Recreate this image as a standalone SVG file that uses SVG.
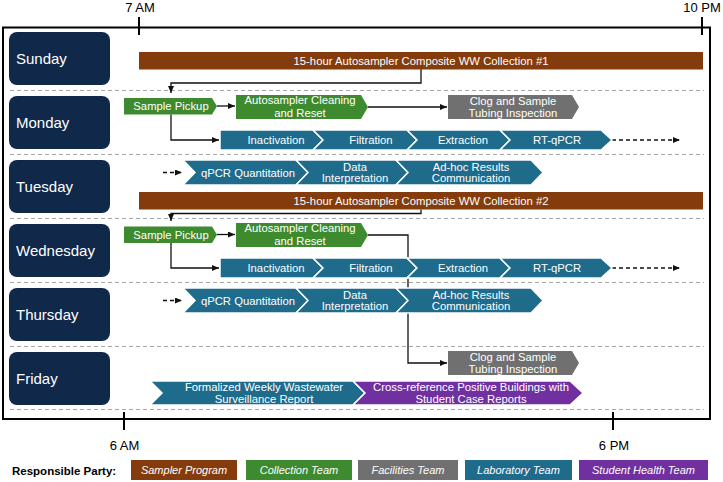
<svg xmlns="http://www.w3.org/2000/svg" width="723" height="482" viewBox="0 0 723 482">
<style>
text{font-family:"Liberation Sans",Arial,sans-serif;fill:#fff;}
.day rect{fill:#10284a;}
.day text{font-size:15px;}
.t{font-size:11.3px;text-anchor:middle;}
.time{font-size:13px;text-anchor:middle;fill:#000;}
.sep{stroke:#a6a6a6;stroke-width:1.2;stroke-dasharray:4 3;fill:none;}
.tick{stroke:#000;stroke-width:2;}
.brown{fill:#843c0c;}
.green{fill:#3e8a2e;}
.gray{fill:#707070;}
.blue{fill:#1e6b8c;stroke:#fff;stroke-width:1.5;stroke-linejoin:miter;}
.bluef{fill:#1e6b8c;}
.purple{fill:#7030a0;stroke:#fff;stroke-width:1.5;}
.conn{fill:none;stroke:#111;stroke-width:1.3;}
.dash{stroke-dasharray:4 3;}
.leg text{font-size:11px;font-style:italic;text-anchor:middle;}
</style>
<defs>
<marker id="ah" markerUnits="userSpaceOnUse" markerWidth="8" markerHeight="7" refX="7" refY="3" orient="auto">
<path d="M0,0 L7,3 L0,6 z" fill="#111"/>
</marker>
</defs>
<rect width="723" height="482" fill="#fff"/>
<!-- frame -->
<rect x="3" y="27.5" width="707" height="391.5" fill="none" stroke="#000" stroke-width="2"/>
<line class="tick" x1="139" y1="17" x2="139" y2="35"/>
<line class="tick" x1="702" y1="17" x2="702" y2="35"/>
<line class="tick" x1="124" y1="412" x2="124" y2="430"/>
<line class="tick" x1="613" y1="412" x2="613" y2="430"/>
<text class="time" x="140" y="12">7 AM</text>
<text class="time" x="702" y="12">10 PM</text>
<text class="time" x="124.5" y="450">6 AM</text>
<text class="time" x="614" y="450">6 PM</text>
<!-- separators -->
<g id="separators">
<line class="sep" x1="10" y1="90.5" x2="704" y2="90.5"/>
<line class="sep" x1="10" y1="154.5" x2="704" y2="154.5"/>
<line class="sep" x1="10" y1="218.5" x2="704" y2="218.5"/>
<line class="sep" x1="10" y1="282.5" x2="704" y2="282.5"/>
<line class="sep" x1="10" y1="346.5" x2="704" y2="346.5"/>
<line class="sep" x1="10" y1="409.5" x2="704" y2="409.5"/>
</g>
<!-- day labels -->
<g id="day-sunday" class="day"><rect x="9" y="32" width="101" height="53" rx="8"/><text x="16" y="64">Sunday</text></g>
<g id="day-monday" class="day"><rect x="9" y="96" width="101" height="53" rx="8"/><text x="16" y="128">Monday</text></g>
<g id="day-tuesday" class="day"><rect x="9" y="160" width="101" height="53" rx="8"/><text x="16" y="192">Tuesday</text></g>
<g id="day-wednesday" class="day"><rect x="9" y="224" width="101" height="53" rx="8"/><text x="16" y="256">Wednesday</text></g>
<g id="day-thursday" class="day"><rect x="9" y="288" width="101" height="53" rx="8"/><text x="16" y="320">Thursday</text></g>
<g id="day-friday" class="day"><rect x="9" y="352" width="101" height="53" rx="8"/><text x="16" y="384">Friday</text></g>
<!-- connectors -->
<g id="connectors">
<polyline class="conn" points="421,69 421,83 171,83 171,93" marker-end="url(#ah)"/>
<line class="conn" x1="217" y1="106" x2="235" y2="106" marker-end="url(#ah)"/>
<line class="conn" x1="368" y1="107" x2="447" y2="107" marker-end="url(#ah)"/>
<polyline class="conn" points="171,114.5 171,140 219,140" marker-end="url(#ah)"/>
<line class="conn dash" x1="612" y1="140" x2="680" y2="140" marker-end="url(#ah)"/>
<line class="conn dash" x1="163" y1="172.5" x2="182" y2="172.5" marker-end="url(#ah)"/>
<polyline class="conn" points="421,209.5 421,213.5 171,213.5 171,221" marker-end="url(#ah)"/>
<line class="conn" x1="217" y1="234.5" x2="235" y2="234.5" marker-end="url(#ah)"/>
<polyline class="conn" points="368,235 408,235 408,363 447,363" marker-end="url(#ah)"/>
<polyline class="conn" points="171,243 171,268 219,268" marker-end="url(#ah)"/>
<line class="conn dash" x1="612" y1="268" x2="680" y2="268" marker-end="url(#ah)"/>
<line class="conn dash" x1="163" y1="300.5" x2="182" y2="300.5" marker-end="url(#ah)"/>
</g>
<!-- Sunday -->
<g id="collection-1"><rect class="brown" x="139" y="52" width="564" height="17.5"/><text class="t" x="421" y="64.5">15-hour Autosampler Composite WW Collection #1</text></g>
<!-- Monday -->
<g id="mon-pickup"><polygon class="green" points="124,98 212,98 217,106.25 212,114.5 124,114.5"/><text class="t" x="171" y="110.3">Sample Pickup</text></g>
<g id="mon-cleaning"><polygon class="green" points="236,95 361,95 368,107 361,119 236,119"/><text class="t" x="300" y="104">Autosampler Cleaning</text><text class="t" x="300" y="116.5">and Reset</text></g>
<g id="mon-clog"><polygon class="gray" points="448,95 572,95 579,107 572,119 448,119"/><text class="t" x="513" y="105">Clog and Sample</text><text class="t" x="513" y="117">Tubing Inspection</text></g>
<g id="mon-inactivation"><polygon class="blue" points="220,130 313,130 323,140 313,150 220,150"/><text class="t" x="276" y="144">Inactivation</text></g>
<g id="mon-filtration"><polygon class="blue" points="313,130 407,130 417,140 407,150 313,150 323,140"/><text class="t" x="371" y="144">Filtration</text></g>
<g id="mon-extraction"><polygon class="blue" points="407,130 500,130 510,140 500,150 407,150 417,140"/><text class="t" x="463" y="144">Extraction</text></g>
<g id="mon-rtqpcr"><polygon class="blue" points="500,130 601,130 612,140 601,150 500,150 510,140"/><text class="t" x="557" y="144">RT-qPCR</text></g>
<!-- Tuesday -->
<g id="tue-quant"><polygon class="blue" points="183,160 296,160 308,172.5 296,185 183,185 195,172.5"/><text class="t" x="248" y="176.5">qPCR Quantitation</text></g>
<g id="tue-interp"><polygon class="blue" points="296,160 396,160 408,172.5 396,185 296,185 308,172.5"/><text class="t" x="355" y="171">Data</text><text class="t" x="355" y="182">Interpretation</text></g>
<g id="tue-comm"><polygon class="blue" points="396,160 531,160 543,172.5 531,185 396,185 408,172.5"/><text class="t" x="471" y="171">Ad-hoc Results</text><text class="t" x="471" y="182">Communication</text></g>
<g id="collection-2"><rect class="brown" x="139" y="192" width="564" height="17.5"/><text class="t" x="421" y="205">15-hour Autosampler Composite WW Collection #2</text></g>
<!-- Wednesday -->
<g id="wed-pickup"><polygon class="green" points="124,226.5 212,226.5 217,234.75 212,243 124,243"/><text class="t" x="171" y="238.8">Sample Pickup</text></g>
<g id="wed-cleaning"><polygon class="green" points="236,223 361,223 368,235 361,247 236,247"/><text class="t" x="300" y="232">Autosampler Cleaning</text><text class="t" x="300" y="244.5">and Reset</text></g>
<g id="wed-inactivation"><polygon class="blue" points="220,258 313,258 323,268 313,278 220,278"/><text class="t" x="276" y="272">Inactivation</text></g>
<g id="wed-filtration"><polygon class="blue" points="313,258 407,258 417,268 407,278 313,278 323,268"/><text class="t" x="371" y="272">Filtration</text></g>
<g id="wed-extraction"><polygon class="blue" points="407,258 500,258 510,268 500,278 407,278 417,268"/><text class="t" x="463" y="272">Extraction</text></g>
<g id="wed-rtqpcr"><polygon class="blue" points="500,258 601,258 612,268 601,278 500,278 510,268"/><text class="t" x="557" y="272">RT-qPCR</text></g>
<!-- Thursday -->
<g id="thu-quant"><polygon class="blue" points="183,288 296,288 308,300.5 296,313 183,313 195,300.5"/><text class="t" x="248" y="304.5">qPCR Quantitation</text></g>
<g id="thu-interp"><polygon class="blue" points="296,288 396,288 408,300.5 396,313 296,313 308,300.5"/><text class="t" x="355" y="299">Data</text><text class="t" x="355" y="310">Interpretation</text></g>
<g id="thu-comm"><polygon class="blue" points="396,288 531,288 543,300.5 531,313 396,313 408,300.5"/><text class="t" x="471" y="299">Ad-hoc Results</text><text class="t" x="471" y="310">Communication</text></g>
<!-- Friday -->
<g id="fri-clog"><polygon class="gray" points="448,351 572,351 579,363 572,375 448,375"/><text class="t" x="513" y="361">Clog and Sample</text><text class="t" x="513" y="372.5">Tubing Inspection</text></g>
<g id="fri-report"><polygon class="blue" points="150,381 353,381 365,393 353,405 150,405 162,393"/><text class="t" x="264" y="391">Formalized Weekly Wastewater</text><text class="t" x="264" y="402.5">Surveillance Report</text></g>
<g id="fri-crossref"><polygon class="purple" points="353,381 570,381 583,393 570,405 353,405 365,393"/><text class="t" x="471" y="391">Cross-reference Positive Buildings with</text><text class="t" x="471" y="402.5">Student Case Reports</text></g>
<!-- legend -->
<g id="legend" class="leg">
<text x="12" y="475" style="fill:#000;font-weight:bold;font-size:11.5px;font-style:normal;text-anchor:start">Responsible Party:</text>
<rect class="brown" x="131" y="460" width="106" height="20"/><text x="184" y="474">Sampler Program</text>
<rect class="green" x="246" y="460" width="106" height="20"/><text x="299" y="474">Collection Team</text>
<rect class="gray" x="358" y="460" width="100" height="20"/><text x="408" y="474">Facilities Team</text>
<rect class="bluef" x="465" y="460" width="107" height="20"/><text x="518.5" y="474">Laboratory Team</text>
<rect fill="#7030a0" x="579" y="460" width="129" height="20"/><text x="643.5" y="474">Student Health Team</text>
</g>
</svg>
